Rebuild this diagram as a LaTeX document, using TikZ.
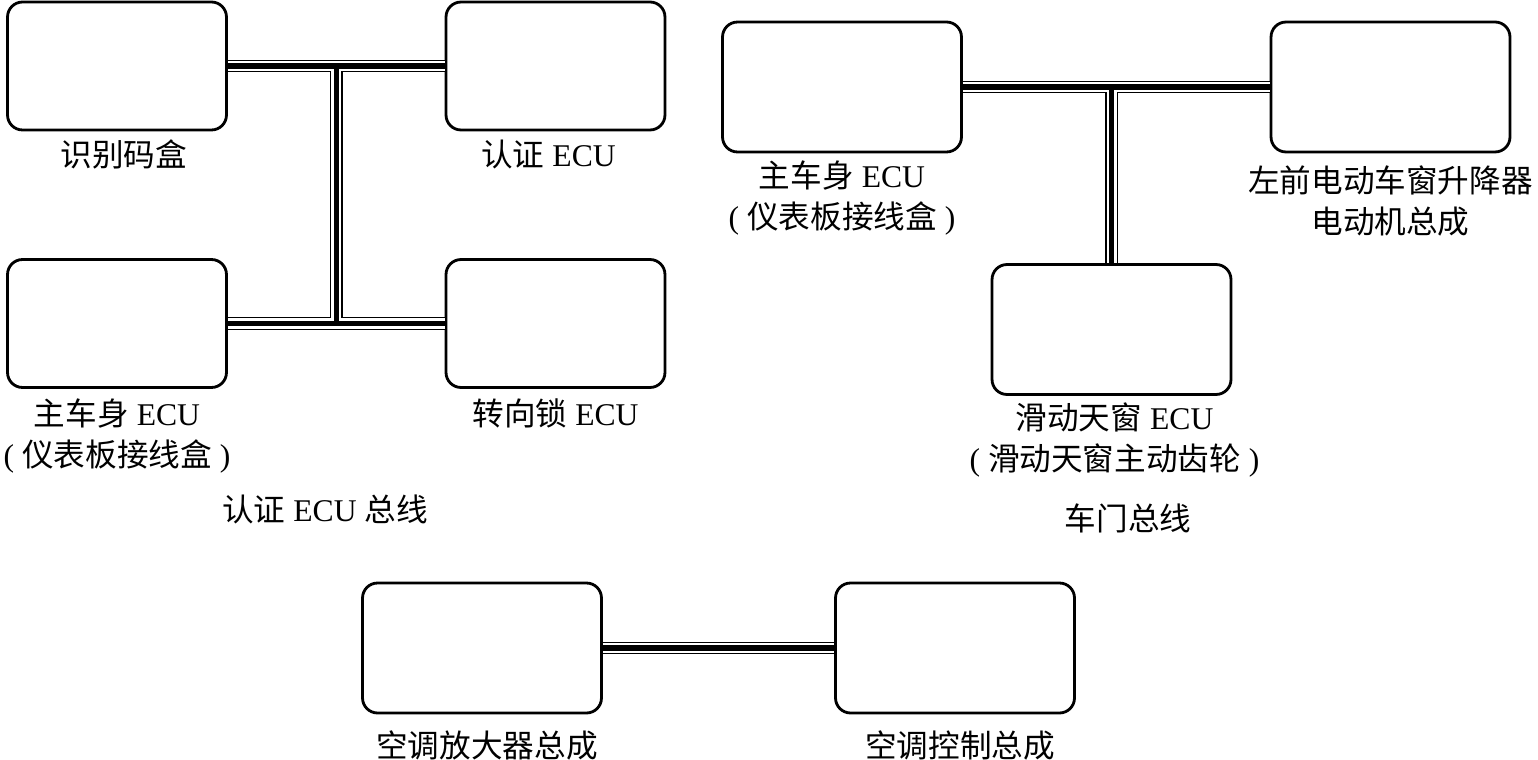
\documentclass[tikz,border=0pt]{standalone}
\usepackage{fontspec}
\setmainfont{Liberation Serif}
\newfontfamily\zhfont{Noto Sans CJK SC}
\usepackage{tikz}
\usetikzlibrary{positioning, calc}

\begin{document}
\begin{tikzpicture}[
    x=0.02cm, y=-0.02cm,
    every node/.style={font=\fontsize{18}{23.3}\selectfont},
    box/.style={draw, line width=1.6pt, rounded corners=0.3cm, minimum width=4.38cm,
                minimum height=2.56cm, inner sep=0pt},
    widebox/.style={box, minimum width=4.78cm, minimum height=2.6cm},
    lbl/.style={inner sep=0pt, align=center},
    bus/.style={line width=7.3pt, postaction={draw=white, line width=5.7pt},
                postaction={draw=black, line width=2.9pt}},
]
\useasboundingbox (0,0) rectangle (1538,760);

% --- Auth ECU bus (top left) ---
\node[box] (ident) at (117,66)    {};
\node[box] (auth)  at (555.5,66)  {};
\node[box] (mainL) at (117,323.5) {};
\node[box] (lock)  at (555.5,323.5) {};

\node[lbl, below=0.16cm of ident, xshift=0.14cm]  (identtxt) {\zhfont 识别码盒};
\node[lbl, below=0.17cm of auth, xshift=-0.14cm]  (authtxt)  {{\zhfont 认证} ECU};
\node[lbl, below=0.2cm of mainL]                  (mainLtxt) {{\zhfont 主车身} ECU\\ ( {\zhfont 仪表板接线盒} )};
\node[lbl, below=0.2cm of lock]                   (locktxt)  {{\zhfont 转向锁} ECU};
\node[lbl] (authbus) at (325,509) {{\zhfont 认证} ECU {\zhfont 总线}};

% --- Door bus (top right) ---
\node[widebox] (bodyR)  at (842,87)      {};
\node[widebox] (window) at (1390.5,87)   {};
\node[widebox] (roof)   at (1111.5,329.5) {};

\node[lbl, below=0.14cm of bodyR]  (bodyRtxt)  {{\zhfont 主车身} ECU\\ ( {\zhfont 仪表板接线盒} )};
\node[lbl, below=0.24cm of window] (windowtxt) {{\zhfont 左前电动车窗升降器}\\ {\zhfont 电动机总成}};
\node[lbl, below=0.14cm of roof, xshift=0.06cm] (rooftxt) {{\zhfont 滑动天窗} ECU\\ ( {\zhfont 滑动天窗主动齿轮} )};
\node[lbl] (doorbus) at (1128,518) {\zhfont 车门总线};

% --- A/C bus (bottom) ---
\node[widebox] (amp)  at (482,648) {};
\node[widebox] (ctrl) at (955,648) {};

\node[lbl, below=0.32cm of amp, xshift=0.1cm]  (amptxt)  {\zhfont 空调放大器总成};
\node[lbl, below=0.32cm of ctrl, xshift=0.1cm] (ctrltxt) {\zhfont 空调控制总成};

% --- Buses ---
\coordinate (jtop) at ($(ident.east)!0.5!(auth.west)$);
\coordinate (jbot) at ($(mainL.east)!0.5!(lock.west)$);
\draw[bus] (ident.east) -- (auth.west) (mainL.east) -- (lock.west) (jtop) -- (jbot);
\draw[bus] (bodyR.east) -- (window.west) (roof.north |- bodyR.east) -- (roof.north);
\draw[bus] (amp.east) -- (ctrl.west);
\end{tikzpicture}
\end{document}
